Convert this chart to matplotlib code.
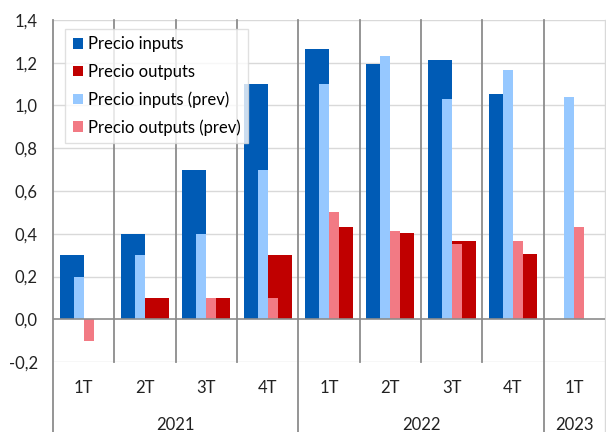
import numpy as np
import matplotlib.pyplot as plt

plt.rcParams['font.family'] = ['Lato', 'DejaVu Sans']

# Quarterly series (NaN = no data)
quarters = ["1T", "2T", "3T", "4T", "1T", "2T", "3T", "4T", "1T"]
years = ["2021", "2022", "2023"]
year_spans = [(0, 3), (4, 7), (8, 8)]

inputs = [0.30, 0.40, 0.70, 1.10, 1.265, 1.195, 1.215, 1.055, np.nan]
outputs = [0.0, 0.10, 0.10, 0.30, 0.432, 0.405, 0.365, 0.305, np.nan]
inputs_prev = [0.20, 0.30, 0.40, 0.70, 1.10, 1.23, 1.03, 1.165, 1.04]
outputs_prev = [-0.10, 0.0, 0.10, 0.10, 0.50, 0.414, 0.354, 0.365, 0.432]

c_in = "#005BB5"
c_out = "#C00000"
c_in_prev = "#96C8FF"
c_out_prev = "#F27A84"
grid_c = "#D9D9D9"
sep_c = "#8C8C8C"
txt_c = "#222222"
fs = 12

W, H = 606, 432
fig = plt.figure(figsize=(W / 100, H / 100), dpi=100)
x0, x1, y_top, y_bot = 53, 605, 20, 362
ax = fig.add_axes([x0 / W, (H - y_bot) / H, (x1 - x0) / W, (y_bot - y_top) / H])

x = np.arange(len(quarters))
wide, narrow = 0.39, 0.165

ax.bar(x - wide, inputs, width=wide, align="edge", color=c_in, label="Precio inputs", zorder=3)
ax.bar(x - narrow, inputs_prev, width=narrow, align="edge", color=c_in_prev,
       label="Precio inputs (prev)", zorder=4)
ax.bar(x, outputs, width=wide, align="edge", color=c_out, label="Precio outputs", zorder=3)
ax.bar(x, outputs_prev, width=narrow, align="edge", color=c_out_prev,
       label="Precio outputs (prev)", zorder=4)

ax.set_xlim(-0.5, len(quarters) - 0.5)
ax.set_ylim(-0.2, 1.4)
yticks = np.arange(-0.2, 1.41, 0.2)
ax.set_yticks(yticks)
ax.set_yticklabels([f"{v:.1f}".replace(".", ",").replace("-0,0", "0,0") for v in yticks],
                   fontsize=fs, color=txt_c)
ax.tick_params(axis="y", length=0, pad=11)
ax.set_xticks([])

for s in ax.spines.values():
    s.set_visible(False)

# horizontal grid
for v in yticks:
    if abs(v) < 1e-9:
        continue
    ax.axhline(v, color=grid_c, lw=1.0, zorder=1)
ax.axhline(0, color=sep_c, lw=1.2, zorder=5)

# vertical separators between quarters
trans = ax.get_xaxis_transform()
below = -(H - y_bot) / (y_bot - y_top)
year_edges = [-0.5, 3.5, 7.5]
for b in np.arange(0.5, len(quarters) - 0.5, 1.0):
    if b in year_edges:
        continue
    ax.plot([b, b], [0, 1], transform=trans, color=sep_c, lw=1.3, zorder=2, clip_on=False)
for b in year_edges:
    ax.plot([b, b], [below, 1], transform=trans, color=sep_c, lw=1.3, zorder=2, clip_on=False)
ax.plot([8.5, 8.5], [below, 1], transform=trans, color=grid_c, lw=1.0, zorder=2, clip_on=False)

# category labels
q_y = -(388 - y_bot) / (y_bot - y_top)
yr_y = -(425 - y_bot) / (y_bot - y_top)
for xi, q in zip(x, quarters):
    ax.text(xi, q_y, q, transform=trans, ha="center", va="center",
            fontsize=fs, color=txt_c, clip_on=False)
for yr, (a, b) in zip(years, year_spans):
    ax.text((a + b) / 2, yr_y, yr, transform=trans, ha="center", va="center",
            fontsize=fs, color=txt_c, clip_on=False)

handles, labels = ax.get_legend_handles_labels()
order = [0, 2, 1, 3]
leg = ax.legend([handles[i] for i in order], [labels[i] for i in order],
                loc="upper left", bbox_to_anchor=((65 - x0) / (x1 - x0), 1 - (29 - y_top) / (y_bot - y_top)),
                fontsize=fs, frameon=True, fancybox=False, handlelength=0.6, handleheight=0.6,
                handletextpad=0.3, labelspacing=0.68, borderpad=0.45, borderaxespad=0)
leg.get_frame().set_edgecolor(grid_c)
leg.get_frame().set_linewidth(1.0)
leg.set_zorder(10)

fig.savefig("out.png", dpi=100)
